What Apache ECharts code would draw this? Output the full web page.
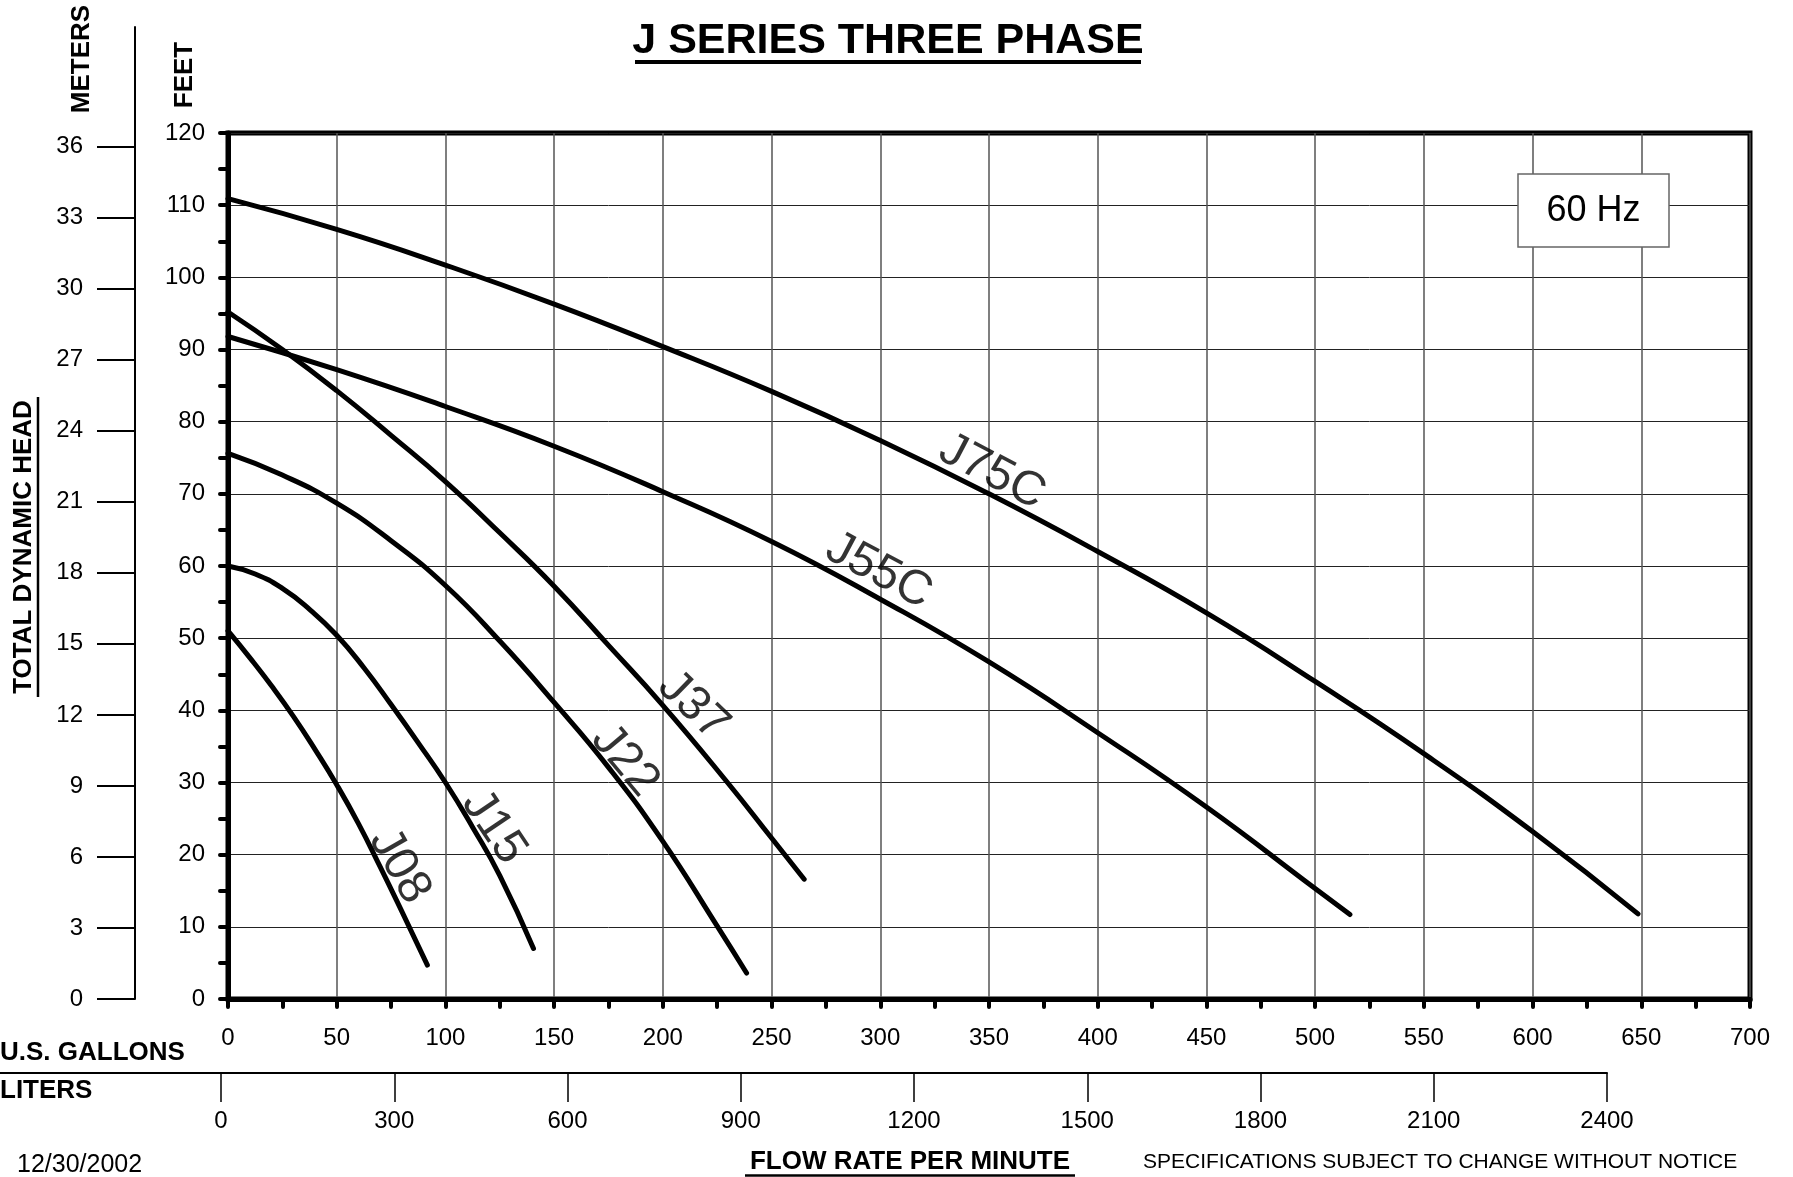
<!DOCTYPE html>
<html>
<head>
<meta charset="utf-8">
<script src="https://cdn.jsdelivr.net/npm/echarts@6/dist/echarts.min.js"></script>
<style>
html,body{margin:0;padding:0;background:#fff;}
#c{width:1793px;height:1177px;}
</style>
</head>
<body>
<div id="c"></div>
<script>
// ---- data (U.S. gallons per minute, feet of head) ----
const J08  = [[0,51],[10,47.3],[20,43.4],[30,39.2],[40,34.6],[50,29.7],[60,24.3],[70,18.3],[80,12.1],[91.7,4.7]];
const J15  = [[0,60],[12.5,58.9],[25,56.9],[37.5,54.0],[50,50.4],[62.5,45.9],[75,40.8],[87.5,35.5],[100,30],[112.5,23.8],[125,17.1],[140.5,7.0]];
const J22  = [[0,75.6],[25,72.6],[50,68.7],[75,63.5],[100,57.3],[125,49.6],[150,41.1],[175,32.1],[200,21.85],[225,10.1],[238.5,3.6]];
const J37  = [[0,95.2],[25,90.0],[50,84.3],[75,78.1],[100,71.7],[125,64.6],[150,57.2],[175,49.0],[200,40.7],[230,29.9],[250,22.3],[265,16.6]];
const J55C = [[0,91.8],[50,87.2],[100,82.1],[150,76.6],[200,70.3],[250,63.4],[300,55.4],[350,46.7],[400,36.9],[450,26.6],[500,15.3],[516,11.7]];
const J75C = [[0,110.9],[50,106.65],[100,101.7],[150,96.3],[200,90.4],[250,84.2],[300,77.4],[350,70.0],[400,62.0],[450,53.5],[500,44.0],[550,34.0],[600,23.2],[648.5,11.8]];
const seriesNames = ['J08','J15','J22','J37','J55C','J75C'];
// curve label anchors: [gallons, feet, name, rotation deg]
const curveLabels = [[78.9,18.4,'J08',-60],[122.2,23.8,'J15',-56],[182.6,33.0,'J22',-50],[214,40.6,'J37',-44],[299.3,59.3,'J55C',-28],[351.4,73.0,'J75C',-27.5]];
const meterTicks = [0,3,6,9,12,15,18,21,24,27,30,33,36];
const literMax = 2400, literStep = 300;
const FT_PER_M = 3.28084;

const FONT = '"Liberation Sans", Arial, Helvetica, sans-serif';
const chart = echarts.init(document.getElementById('c'));
const curves = [J08,J15,J22,J37,J55C,J75C];

// grid geometry
const G = {left:228, top:133, width:1522, height:866};
const meterMax = (G.height + (G.top - 27)) / (G.height / 120) / FT_PER_M;
const literLeft = 221, literRight = 1607;

const lineSeries = curves.map((d,i)=>({
  type:'line', name:seriesNames[i], xAxisIndex:0, yAxisIndex:0,
  data:d, smooth:true, showSymbol:false, symbol:'none',
  lineStyle:{color:'#000', width:5, cap:'round', join:'round'},
  silent:true, z:5
}));

const labelSeries = {
  type:'scatter', xAxisIndex:0, yAxisIndex:0, symbol:'circle', symbolSize:1, silent:true, z:6,
  itemStyle:{color:'rgba(0,0,0,0)'},
  data: curveLabels.map(l=>({value:[l[0],l[1]], name:l[2],
    label:{show:true, position:'inside', formatter:l[2], rotate:l[3], fontSize:48, color:'#000', fontFamily:FONT}}))
};

// dummy series to bind the meter and liter grids
const meterSeries = {type:'line', xAxisIndex:1, yAxisIndex:1, data:[], silent:true};
const literSeries = {type:'line', xAxisIndex:2, yAxisIndex:2, data:[], silent:true};

const option = {
  animation:false,
  backgroundColor:'#fff',
  textStyle:{fontFamily:FONT},
  grid:[
    {left:G.left, top:G.top, width:G.width, height:G.height, show:true, borderColor:'#000', borderWidth:5, backgroundColor:'transparent'},
    {left:135, top:27, width:10, height:972},
    {left:literLeft, top:1072, width:literRight-literLeft, height:1}
  ],
  xAxis:[
    {gridIndex:0, type:'value', min:0, max:700, interval:50,
     axisLine:{show:true, lineStyle:{color:'#000', width:5}},
     axisTick:{show:true, length:8, lineStyle:{color:'#000', width:4, cap:'round'}},
     minorTick:{show:true, splitNumber:2, length:8, lineStyle:{color:'#000', width:4, cap:'round'}},
     splitLine:{show:true, lineStyle:{color:'#555', width:1.5}},
     axisLabel:{fontSize:24, color:'#000', margin:27, fontFamily:FONT}},
    {gridIndex:1, type:'value', show:false, min:0, max:1},
    {gridIndex:2, type:'value', position:'bottom', min:0, max:literMax, interval:literStep,
     axisLine:{show:true, onZero:false, lineStyle:{color:'#000', width:2}},
     axisTick:{show:true, length:29, lineStyle:{color:'#000', width:1.5}},
     splitLine:{show:false},
     axisLabel:{fontSize:24, color:'#000', margin:36, fontFamily:FONT, formatter:(v)=>String(v)}}
  ],
  yAxis:[
    {gridIndex:0, type:'value', min:0, max:120, interval:10,
     axisLine:{show:true, lineStyle:{color:'#000', width:5}},
     axisTick:{show:true, length:8, lineStyle:{color:'#000', width:4, cap:'round'}},
     minorTick:{show:true, splitNumber:2, length:8, lineStyle:{color:'#000', width:4, cap:'round'}},
     splitLine:{show:true, lineStyle:{color:'#222', width:1}},
     axisLabel:{fontSize:24, color:'#000', margin:23, fontFamily:FONT}},
    {gridIndex:1, type:'value', min:0, max:meterMax, position:'left',
     axisLine:{show:true, lineStyle:{color:'#000', width:2}},
     axisTick:{show:true, length:38, customValues:meterTicks, lineStyle:{color:'#000', width:2}},
     splitLine:{show:false},
     axisLabel:{fontSize:24, color:'#000', margin:52, customValues:meterTicks, fontFamily:FONT}},
    {gridIndex:2, type:'value', show:false, min:0, max:1}
  ],
  series: lineSeries.concat([labelSeries, meterSeries, literSeries]),
  graphic:[
    {type:'text', x:888, y:41, style:{text:'J SERIES THREE PHASE', font:'bold 43px '+FONT, fill:'#000', textAlign:'center', textVerticalAlign:'middle'}},
    {type:'line', shape:{x1:635, y1:62, x2:1141, y2:62}, style:{stroke:'#000', lineWidth:4}},
    {type:'text', x:185, y:75, rotation:Math.PI/2, style:{text:'FEET', font:'bold 26px '+FONT, fill:'#000', textAlign:'center', textVerticalAlign:'middle'}},
    {type:'text', x:82, y:59, rotation:Math.PI/2, style:{text:'METERS', font:'bold 26px '+FONT, fill:'#000', textAlign:'center', textVerticalAlign:'middle'}},
    {type:'text', x:24, y:547, rotation:Math.PI/2, style:{text:'TOTAL DYNAMIC HEAD', font:'bold 26px '+FONT, fill:'#000', textAlign:'center', textVerticalAlign:'middle'}},
    {type:'line', shape:{x1:38, y1:397, x2:38, y2:697}, style:{stroke:'#000', lineWidth:2.5}},
    {type:'text', x:0, y:1053, style:{text:'U.S. GALLONS', font:'bold 26px '+FONT, fill:'#000', textAlign:'left', textVerticalAlign:'middle'}},
    {type:'line', shape:{x1:0, y1:1073, x2:literLeft, y2:1073}, style:{stroke:'#000', lineWidth:2}},
    {type:'text', x:0, y:1091, style:{text:'LITERS', font:'bold 26px '+FONT, fill:'#000', textAlign:'left', textVerticalAlign:'middle'}},
    {type:'text', x:17, y:1165, style:{text:'12/30/2002', font:'25px '+FONT, fill:'#000', textAlign:'left', textVerticalAlign:'middle'}},
    {type:'text', x:910, y:1162, style:{text:'FLOW RATE PER MINUTE', font:'bold 26px '+FONT, fill:'#000', textAlign:'center', textVerticalAlign:'middle'}},
    {type:'line', shape:{x1:745, y1:1175.5, x2:1075, y2:1175.5}, style:{stroke:'#000', lineWidth:2.5}},
    {type:'text', x:1143, y:1162, style:{text:'SPECIFICATIONS SUBJECT TO CHANGE WITHOUT NOTICE', font:'21px '+FONT, fill:'#000', textAlign:'left', textVerticalAlign:'middle'}},
    {type:'rect', z:100, shape:{x:1518, y:174, width:151, height:73}, style:{fill:'#fff', stroke:'#666', lineWidth:1.5}},
    {type:'text', z:101, x:1593.5, y:211, style:{text:'60 Hz', font:'36px '+FONT, fill:'#000', textAlign:'center', textVerticalAlign:'middle'}}
  ]
};
chart.setOption(option);
</script>
</body>
</html>
